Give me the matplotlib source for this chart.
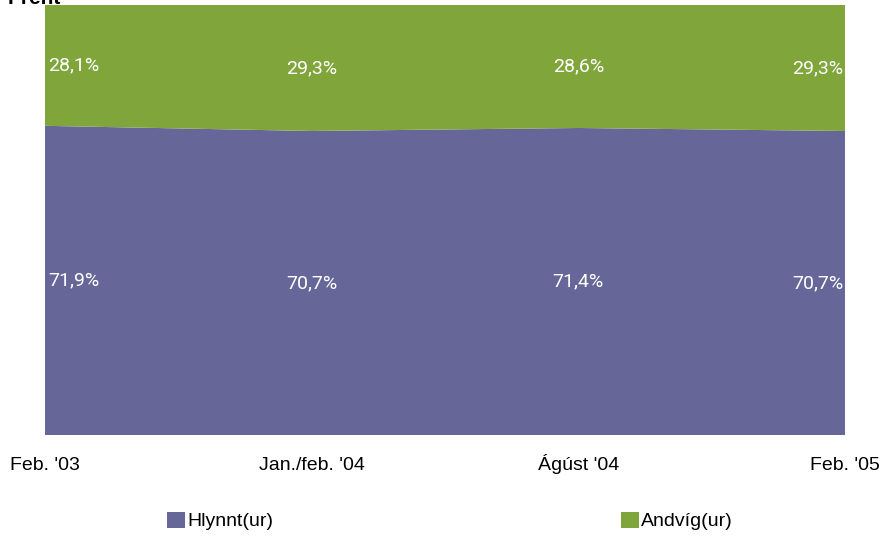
import matplotlib.pyplot as plt
from matplotlib.patches import Patch

# data
categories = ["Feb. '03", "Jan./feb. '04", "Ágúst '04", "Feb. '05"]
hlynnt = [71.9, 70.7, 71.4, 70.7]
andvig = [28.1, 29.3, 28.6, 29.3]
series_names = ["Hlynnt(ur)", "Andvíg(ur)"]

purple = '#666699'
green = '#80a63b'

plt.rcParams['font.family'] = ['Liberation Sans', 'DejaVu Sans']

fig = plt.figure(figsize=(8.9, 5.36), dpi=100)
ax = fig.add_axes([45 / 890, 101 / 536, 800 / 890, 430 / 536])

x = list(range(len(categories)))
ax.stackplot(x, hlynnt, andvig, colors=[purple, green], linewidth=0)
ax.set_xlim(0, len(categories) - 1)
ax.set_ylim(0, 100)

# data labels
for i in x:
    ha = 'center'
    dx = 0
    if i == 0:
        ha, dx = 'left', 0.012
    elif i == len(x) - 1:
        ha, dx = 'right', -0.005
    ax.text(i + dx, hlynnt[i] / 2, f"{hlynnt[i]:.1f}%".replace('.', ','),
            color='white', ha=ha, va='center', fontsize=14, family=['Roboto', 'DejaVu Sans'])
    ax.text(i + dx, hlynnt[i] + andvig[i] / 2, f"{andvig[i]:.1f}%".replace('.', ','),
            color='white', ha=ha, va='center', fontsize=14, family=['Roboto', 'DejaVu Sans'])

ax.set_xticks(x)
ax.set_xticklabels(categories, fontsize=14, va='baseline')
ax.tick_params(axis='x', length=0, pad=25)
ax.set_yticks([])
for s in ax.spines.values():
    s.set_visible(False)

# title is cut off at the top in the original
fig.text(8 / 890, 1 - 4 / 536, "Prent", fontsize=15, fontweight='bold', va='baseline', ha='left')

leg_kw = dict(frameon=False, fontsize=14, handlelength=0.9, handleheight=0.9,
              handletextpad=0.15, borderaxespad=0, borderpad=0)
fig.legend(handles=[Patch(facecolor=purple, label=series_names[0])], loc='center left',
           bbox_to_anchor=(167 / 890, 15 / 536), **leg_kw)
fig.legend(handles=[Patch(facecolor=green, label=series_names[1])], loc='center left',
           bbox_to_anchor=(621 / 890, 15 / 536), **leg_kw)

fig.savefig('out.png', dpi=100)
